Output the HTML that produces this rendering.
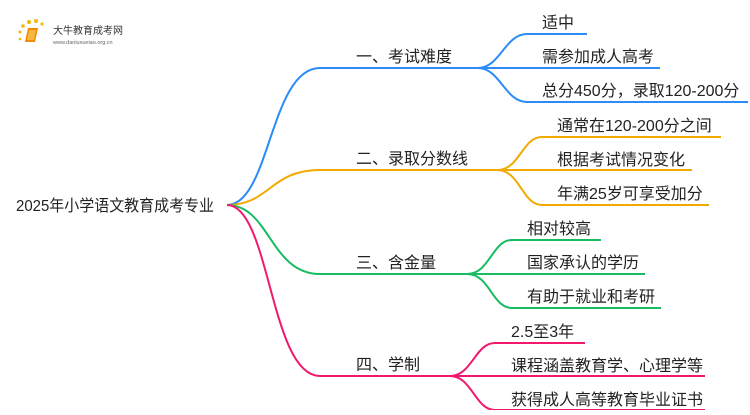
<!DOCTYPE html>
<html><head><meta charset="utf-8"><style>
body{margin:0;background:#fff;width:750px;height:410px;overflow:hidden}
svg text{font-family:"Liberation Sans","Noto Sans CJK SC",sans-serif;fill:#222}
</style></head><body>
<svg width="750" height="410" viewBox="0 0 750 410" xmlns="http://www.w3.org/2000/svg">
<g fill="#f5b800">
<circle cx="20" cy="32" r="1.5"/><circle cx="23" cy="26" r="1.8"/><circle cx="29" cy="22" r="2"/><circle cx="36" cy="21" r="2"/><circle cx="42" cy="24" r="1.6"/><circle cx="20" cy="39" r="1.3"/>
</g>
<path d="M28 28 L38 28 L35 42 L25 42 Z" fill="#f08a00"/>
<path d="M29 30 L36 30 L34 40 L27 40 Z" fill="#f8b640"/>
<text x="53" y="34" font-size="10" style="fill:#333">大牛教育成考网</text>
<text x="53" y="44" font-size="5.5" style="fill:#666">www.daniuxueiao.org.cn</text>
<text x="16" y="211" font-size="16" textLength="198" lengthAdjust="spacingAndGlyphs">2025年小学语文教育成考专业</text>
<g fill="none" stroke-width="2">
<path d="M227 205 C270 205 270 68 320 68 L478 68" stroke="#2b8cf7"/>
<path d="M478 68 C500 68 505 34 527 34 L587 34 M478 68 L660 68 M478 68 C500 68 505 102 527 102 L748 102" stroke="#2b8cf7"/>
<path d="M227 205 C270 205 270 170 320 170 L497 170" stroke="#f2a900"/>
<path d="M497 170 C520 170 522 137 542 137 L721 137 M497 170 L692 170 M497 170 C520 170 522 205 542 205 L709 205" stroke="#f2a900"/>
<path d="M227 205 C270 205 270 274 320 274 L467 274" stroke="#17bb62"/>
<path d="M467 274 C490 274 492 240 512 240 L601 240 M467 274 L645 274 M467 274 C490 274 492 308 512 308 L661 308" stroke="#17bb62"/>
<path d="M227 205 C270 205 270 376 320 376 L450 376" stroke="#f0196e"/>
<path d="M450 376 C472 376 475 343 495 343 L585 343 M450 376 L705 376 M450 376 C472 376 475 410 495 410 L705 410" stroke="#f0196e"/>
</g>
<g font-size="16">
<text x="356" y="62">一、考试难度</text>
<text x="356" y="164">二、录取分数线</text>
<text x="356" y="268">三、含金量</text>
<text x="356" y="370">四、学制</text>
<text x="542" y="28">适中</text>
<text x="542" y="62">需参加成人高考</text>
<text x="542" y="96">总分450分，录取120-200分</text>
<text x="557" y="131">通常在120-200分之间</text>
<text x="557" y="165">根据考试情况变化</text>
<text x="557" y="199">年满25岁可享受加分</text>
<text x="527" y="234">相对较高</text>
<text x="527" y="268">国家承认的学历</text>
<text x="527" y="302">有助于就业和考研</text>
<text x="511" y="337">2.5至3年</text>
<text x="511" y="371">课程涵盖教育学、心理学等</text>
<text x="511" y="405">获得成人高等教育毕业证书</text>
</g>
</svg>
</body></html>
